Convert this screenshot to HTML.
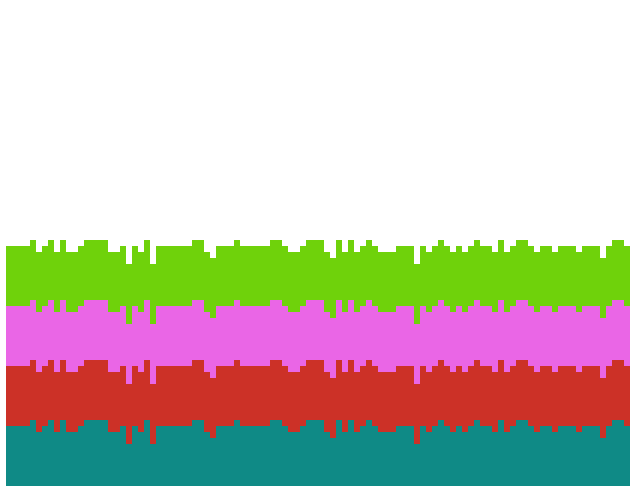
<!DOCTYPE html>
<html><head><meta charset="utf-8"><style>
html,body{margin:0;padding:0;background:#fff;}
svg{display:block;}
</style></head><body>
<svg id="chart" width="636" height="492" viewBox="0 0 636 492"></svg>
<script>
const categories = Array.from({length:104}, (_, i) => i);
const tealVals = [10,10,10,10,11,9,10,11,9,11,9,9,10,11,11,11,11,9,9,10,7,10,9,11,7,10,10,10,10,10,10,11,11,9,8,10,10,10,11,10,10,10,10,10,11,11,10,9,9,10,11,11,11,9,8,11,9,11,9,10,11,10,9,9,9,10,10,10,7,10,9,10,11,10,9,10,9,10,11,10,10,9,11,9,10,11,11,10,9,10,10,9,10,10,10,9,10,10,10,8,10,11,11,10];
const redVals = categories.map(() => 10);
const pinkVals = categories.map(() => 10);
const greenVals = categories.map(() => 10);
const series = [
  {name:'teal', vals:tealVals, color:'#0f8a86'},
  {name:'red', vals:redVals, color:'#cc3127'},
  {name:'pink', vals:pinkVals, color:'#ea66e6'},
  {name:'green', vals:greenVals, color:'#6fd20b'}
];
const svg = document.getElementById('chart');
const NS = 'http://www.w3.org/2000/svg';
const x0 = 6, bw = 6, baseY = 486, unit = 6;
const xScale = i => x0 + i * bw;
const yScale = v => baseY - v * unit;
categories.forEach((c, i) => {
  let acc = 0;
  series.forEach(s => {
    const v = s.vals[i];
    const r = document.createElementNS(NS, 'rect');
    
    
    r.setAttribute('x', xScale(i));
    r.setAttribute('width', bw);
    r.setAttribute('y', yScale(acc + v));
    r.setAttribute('height', v * unit);
    r.setAttribute('fill', s.color);
    r.setAttribute('shape-rendering', 'crispEdges');
    svg.appendChild(r);
    acc += v;
  });
});
</script>
</body></html>
